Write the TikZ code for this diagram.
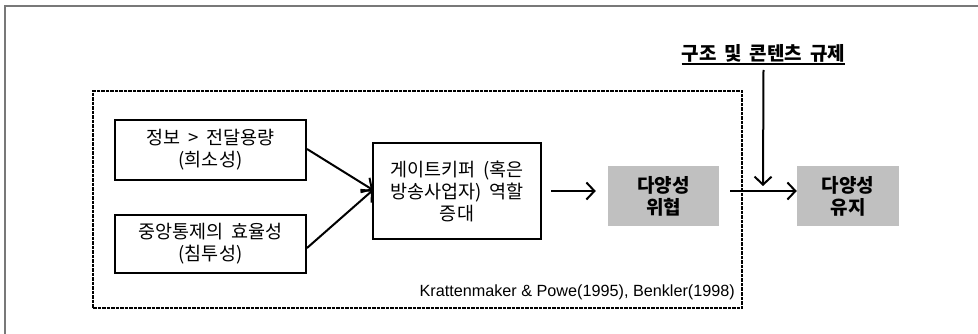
\documentclass[tikz,border=0pt]{standalone}
\usepackage{fontspec}
\setmainfont[WordSpace=1.8]{Noto Sans CJK KR}
\newfontfamily\arialf{Liberation Sans}
\usetikzlibrary{arrows.meta}
\definecolor{boxgray}{RGB}{192,192,192}
\definecolor{framegray}{RGB}{120,120,120}
\tikzset{
  whitebox/.style={draw=black, line width=2pt, fill=white, align=center, inner sep=0pt,
    font=\fontsize{18.5}{22}\selectfont},
  graybox/.style={fill=boxgray, align=center, inner sep=0pt,
    font=\fontsize{19}{22}\selectfont\bfseries},
  conn/.style={line width=2pt, -{Straight Barb[length=8pt,width=17pt,line width=2pt]}},
  dashbox/.style={draw=black, line width=2.2pt, dash pattern=on 3.5pt off 1pt}
}
\begin{document}
\begin{tikzpicture}[x=1pt,y=-1pt]
\useasboundingbox (0,0) rectangle (978,334);
% outer frame (partially visible)
\draw[framegray, line width=2pt] (5,340) -- (5,6) -- (990,6);
% dashed group box
\node[dashbox, minimum width=649pt, minimum height=217pt, inner sep=0pt] (grp) at (417.5,199.5) {};
% nodes
\node[whitebox, minimum width=191pt, minimum height=60pt] (b1) at (210.5,150) {정보 > 전달용량\\(희소성)};
\node[whitebox, minimum width=191pt, minimum height=58pt] (b2) at (210.5,244) {중앙통제의 효율성\\(침투성)};
\node[whitebox, minimum width=168pt, minimum height=96pt] (b3) at (457,191) {게이트키퍼 (혹은\\방송사업자) 역할\\증대};
\node[graybox, minimum width=111pt, minimum height=60pt] (g1) at (663.5,196) {다양성\\위협};
\node[graybox, minimum width=102pt, minimum height=60pt] (g2) at (848,196) {다양성\\유지};
\node[anchor=east, inner sep=0pt, font=\arialf\fontsize{16.2}{18}\selectfont] (cite) at (735,292) {Krattenmaker \& Powe(1995), Benkler(1998)};
\node[anchor=base, inner sep=0pt, font=\fontsize{19}{22}\selectfont\bfseries] (ttl) at (763.5,61) {구조 및 콘텐츠 규제};
\draw[line width=1.5pt] ([yshift=-3pt]ttl.base west) -- ([yshift=-3pt]ttl.base east);
\coordinate (tip) at (763,186);
\coordinate (meet) at (373,190);
% connectors
\draw[conn] ([yshift=1pt]b1.east) -- (meet);
\draw[conn] ([yshift=-4pt]b2.east) -- (meet);
\draw[conn, shorten <=9pt, shorten >=12pt] (b3.east) -- (b3.east -| g1.west);
\draw[conn, shorten <=11pt] (b3.east -| g1.east) -- (b3.east -| g2.west);
\draw[conn] ([yshift=-9pt]ttl.base) -- (tip);
\end{tikzpicture}
\end{document}
